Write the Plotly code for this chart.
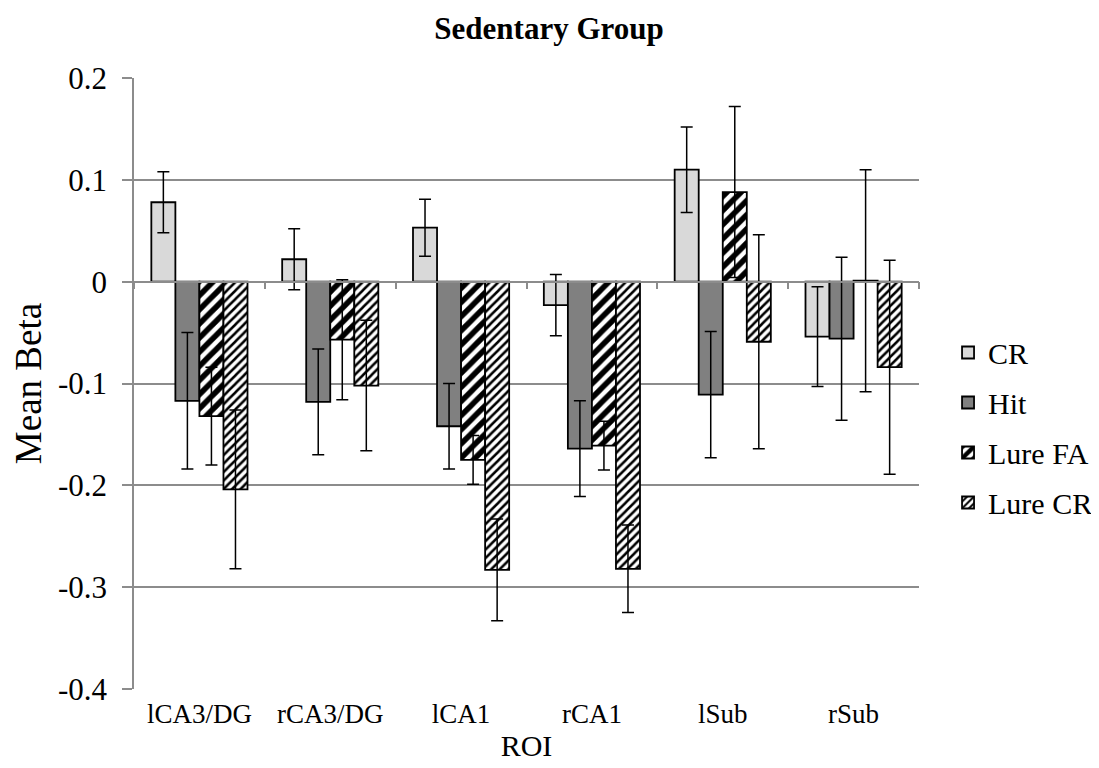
import plotly.graph_objects as go

categories = ['lCA3/DG', 'rCA3/DG', 'lCA1', 'rCA1', 'lSub', 'rSub']
series_names = ['CR', 'Hit', 'Lure FA', 'Lure CR']
cr_vals = [0.078, 0.022, 0.053, -0.023, 0.110, -0.054]
cr_err = [0.030, 0.030, 0.028, 0.030, 0.042, 0.049]
hit_vals = [-0.117, -0.118, -0.142, -0.164, -0.111, -0.056]
hit_err = [0.067, 0.052, 0.042, 0.047, 0.062, 0.080]
lurefa_vals = [-0.132, -0.057, -0.175, -0.161, 0.088, 0.001]
lurefa_err = [0.048, 0.059, 0.024, 0.024, 0.084, 0.109]
lurecr_vals = [-0.204, -0.102, -0.283, -0.282, -0.059, -0.084]
lurecr_err = [0.078, 0.064, 0.050, 0.043, 0.105, 0.105]
y_ticks = [-0.4, -0.3, -0.2, -0.1, 0, 0.1, 0.2]
y_ticktext = ['-0.4', '-0.3', '-0.2', '-0.1', '0', '0.1', '0.2']

FONT = 'Liberation Serif'
GRID = '#8c8c8c'

styles = [
    dict(color='#d9d9d9'),
    dict(color='#808080'),
    dict(color='white', pattern=dict(shape='/', fgcolor='black', bgcolor='white', fgopacity=1,
                                     size=10, solidity=0.55)),
    dict(color='white', pattern=dict(shape='/', fgcolor='black', bgcolor='white', fgopacity=1,
                                     size=6, solidity=0.42)),
]
vals = [cr_vals, hit_vals, lurefa_vals, lurecr_vals]
errs = [cr_err, hit_err, lurefa_err, lurecr_err]

fig = go.Figure()
for i, (name, v, e, st) in enumerate(zip(series_names, vals, errs, styles)):
    marker = dict(line=dict(color='black', width=1.8), **st)
    fig.add_trace(go.Bar(
        x=categories, y=v, name=name, marker=marker,
        error_y=dict(type='data', array=e, visible=True, color='black', thickness=1.5, width=6),
        legendgroup=name,
    ))

# axis line at zero with category-boundary ticks
n = len(categories)
fig.add_trace(go.Scatter(x=[-0.5, n - 0.5], y=[None, None], xaxis='x2', showlegend=False,
                         hoverinfo='skip', mode='markers', marker=dict(opacity=0)))

ymin, ymax = y_ticks[0], y_ticks[-1]
fig.update_layout(
    width=1099, height=768,
    margin=dict(l=126, r=188, t=70, b=87, autoexpand=False),
    paper_bgcolor='white', plot_bgcolor='white',
    barmode='group', bargap=0.265, bargroupgap=0,
    font=dict(family=FONT, color='black', size=30),
    title=dict(text='<b>Sedentary Group</b>', x=541 / 1099, xref='container', xanchor='center',
               y=1 - 20 / 768, yref='container', yanchor='middle',
               font=dict(family=FONT, size=31, color='black')),
    xaxis=dict(type='category', showgrid=False, showline=False, ticks='',
               ticklabelstandoff=6, tickfont=dict(family=FONT, size=27, color='black'),
               automargin=False,
               title=dict(text='ROI', font=dict(family=FONT, size=30, color='black'), standoff=6)),
    xaxis2=dict(overlaying='x', anchor='free', position=(0 - ymin) / (ymax - ymin),
                range=[-0.5, n - 0.5], tickmode='array',
                tickvals=[k - 0.5 for k in range(n + 1)],
                showticklabels=False, ticks='outside', ticklen=7, tickwidth=1.5, tickcolor=GRID,
                showline=True, linecolor=GRID, linewidth=1.5, showgrid=False, zeroline=False),
    yaxis=dict(range=[ymin, ymax], tickvals=y_ticks, ticktext=y_ticktext,
               showgrid=True, gridcolor=GRID, gridwidth=1.5, zeroline=False,
               showline=True, linecolor=GRID, linewidth=1.5,
               ticks='outside', ticklen=10, tickwidth=1.5, tickcolor=GRID,
               ticklabelstandoff=9, tickfont=dict(family=FONT, size=31, color='black'),
               automargin=False,
               title=dict(text='Mean Beta', font=dict(family=FONT, size=37, color='black'), standoff=12)),
    legend=dict(x=1.037, xanchor='left', y=0.428, yanchor='middle',
                font=dict(family=FONT, size=30, color='black'), tracegroupgap=8, traceorder='grouped',
                itemwidth=30, bgcolor='rgba(0,0,0,0)'),
    showlegend=True,
)

fig.write_html('out.html')
